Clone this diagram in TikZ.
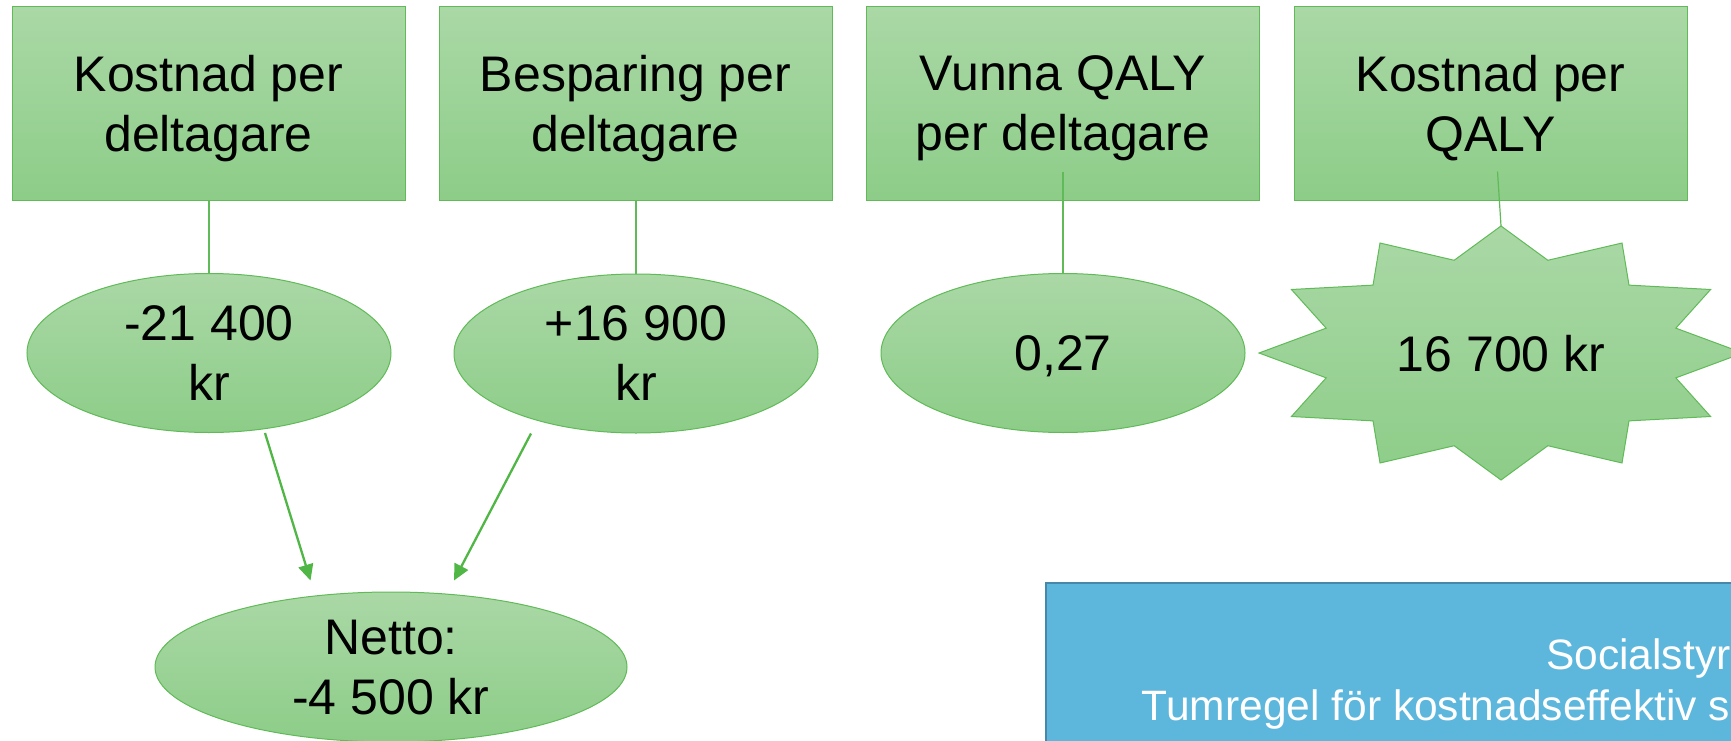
\documentclass[tikz,border=0pt]{standalone}
\usepackage{fontspec}
\setmainfont{Liberation Sans}
\usetikzlibrary{shapes.geometric, arrows.meta, calc}

\definecolor{gtop}{RGB}{170,216,166}
\definecolor{gbot}{RGB}{141,205,136}
\definecolor{gline}{RGB}{96,186,88}
\definecolor{garrow}{RGB}{80,183,70}
\definecolor{bfill}{RGB}{93,183,221}
\definecolor{bline}{RGB}{70,135,170}

\begin{document}
\begin{tikzpicture}[x=1pt,y=-1pt,
  gshade/.style={top color=gtop, bottom color=gbot, draw=gline, line width=1pt},
  bigfont/.style={font=\fontsize{50}{60}\selectfont},
  topbox/.style={gshade, rectangle, minimum width=393pt, minimum height=193pt,
    inner sep=0pt, align=center, bigfont, text depth=0pt},
  valell/.style={gshade, ellipse, minimum width=364pt, minimum height=159pt,
    inner sep=0pt, align=center, bigfont, text depth=0pt},
  link/.style={gline, line width=1.2pt},
  flow/.style={garrow, line width=2.3pt, -{Triangle[length=16pt,width=15pt]}},
  bluetext/.style={anchor=base west, inner sep=0pt, text=white,
    font=\fontsize{42.5}{51}\selectfont},
]
\useasboundingbox (0,0) rectangle (1731,741);
\begin{scope}
\clip (0,0) rectangle (1731,741);

% top boxes
\node[topbox] (b1) at (208.5,103.5) {Kostnad per\\deltagare};
\node[topbox] (b2) at (635.5,103.5) {Besparing per\\deltagare};
\node[topbox] (b3) at (1063,103.5) {Vunna QALY\\per deltagare};
\node[topbox] (b4) at (1490.5,103.5) {Kostnad per\\QALY};

% value ellipses
\node[valell] (e1) at (209,353) {-21 400\\kr};
\node[valell] (e2) at (636,353.5) {+16 900\\kr};
\node[valell] (e3) at (1063,353) {0,27};

% starburst
\coordinate (star) at (1501,353);
\coordinate (startop) at (1501,226);
\path[gshade, shift={(star)}]
  plot[variable=\a, samples at={0,15,...,345}]
  ({(242-61*mod(round(\a/15),2))*sin(\a)}, {-(127-31*mod(round(\a/15),2))*cos(\a)}) -- cycle;
\node[bigfont, text depth=0pt, inner sep=0pt] (startext) at (star) {16 700 kr};

% net ellipse
\node[valell, minimum width=472pt, minimum height=150pt] (net) at (391,667) {Netto:\\-4 500 kr};

% connectors
\draw[link] (e1.north |- b1.south) -- (e1.north);
\draw[link] (e2.north |- b2.south) -- (e2.north);
\draw[link] ($(b3.south)+(0,-29)$) -- (e3.north);
\draw[link] ($(b4.south)+(7,-29)$) -- (startop);

\draw[flow] ($(e1.south)+(56,0)$) -- ($(net.north)+(-80.5,-11)$);
\draw[flow] ($(e2.south)+(-105,0)$) -- ($(net.north)+(63,-11)$);

% blue box
\node[draw=bline, fill=bfill, line width=1.5pt, rectangle, anchor=north west,
  minimum width=900pt, minimum height=300pt] (blue) at (1045,582) {};
\node[bluetext] (bt1) at (1546,669) {Socialstyre};
\node[bluetext] (bt2) at (1141.7,720.7) {Tumregel för kostnadseffektiv s};
\end{scope}
\end{tikzpicture}
\end{document}
